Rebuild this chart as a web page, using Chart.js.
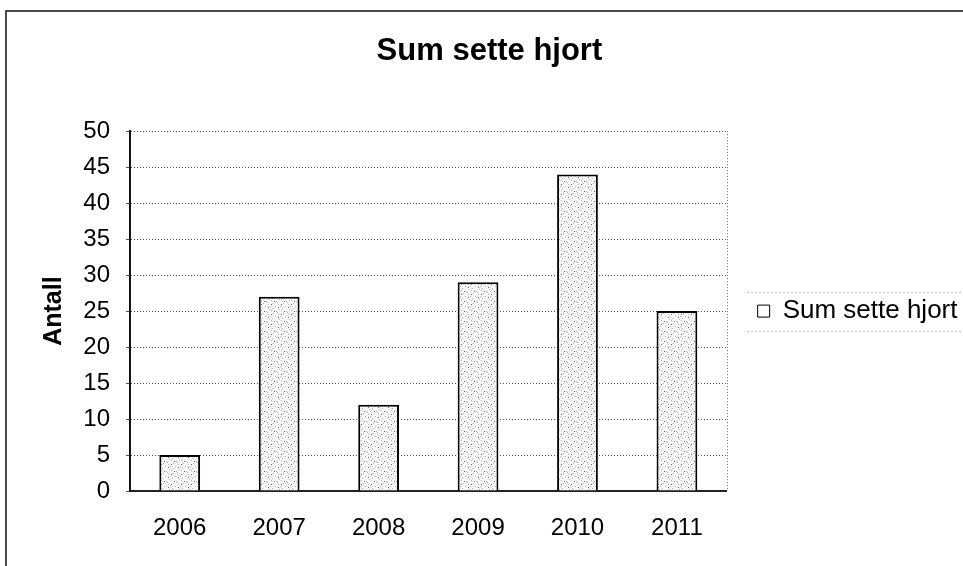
<!DOCTYPE html>
<html>
<head>
<meta charset="utf-8">
<script src="https://cdn.jsdelivr.net/npm/chart.js@4.4.1/dist/chart.umd.min.js"></script>
<style>
  html, body { margin: 0; padding: 0; background: #ffffff; }
  canvas { display: block; }
</style>
</head>
<body>
<canvas id="c" width="963" height="566"></canvas>
<script>
// ---- data ----
const categories = ['2006', '2007', '2008', '2009', '2010', '2011'];
const seriesName = 'Sum sette hjort';
const seriesValues = [5, 27, 12, 29, 44, 25];
const chartTitle = 'Sum sette hjort';
const yAxisTitle = 'Antall';
const yMin = 0, yMax = 50, yStep = 5;

// ---- styling ----
const FONT = "'Liberation Sans', Arial, sans-serif";
const W = 963, H = 566;
const AREA = { left: 130, right: 726, top: 131, bottom: 491 };
const PAD_LEFT = 15;
const legendFontSize = 26;
const legendPad = 31;

// stipple pattern for bars
function makePattern() {
  const p = document.createElement('canvas');
  p.width = 10; p.height = 10;
  const g = p.getContext('2d');
  g.fillStyle = '#f7f7f7';
  g.fillRect(0, 0, 10, 10);
  const light = [[1,0],[6,1],[3,3],[8,4],[0,6],[5,6],[2,8],[9,9],[7,2]];
  const dark = [[4,1],[8,7],[1,4]];
  g.fillStyle = '#b4b4b4';
  light.forEach(([x, y]) => g.fillRect(x, y, 1, 1));
  g.fillStyle = '#666';
  dark.forEach(([x, y]) => g.fillRect(x, y, 1, 1));
  return g.createPattern(p, 'repeat');
}

// measure legend text to place legend precisely
const mctx = document.createElement('canvas').getContext('2d');
mctx.font = legendFontSize + 'px ' + FONT;
const legendTextW = mctx.measureText(seriesName).width;
const legendBoxW = 12;
const legendWidth = legendPad + legendBoxW + legendFontSize / 2 + legendTextW + 10;
const padRight = W - AREA.right - legendWidth + 3;

const framePlugin = {
  id: 'frame',
  beforeDraw(chart) {
    const ctx = chart.ctx;
    ctx.save();
    ctx.fillStyle = '#fff';
    ctx.fillRect(0, 0, W, H);
    ctx.strokeStyle = '#111';
    ctx.lineWidth = 1.5;
    ctx.beginPath();
    ctx.moveTo(963, 11);
    ctx.lineTo(6, 11);
    ctx.lineTo(6, 566);
    ctx.stroke();
    ctx.restore();
  },
  afterDraw(chart) {
    const ctx = chart.ctx;
    const a = chart.chartArea;
    ctx.save();
    // right edge of plot area, dotted
    ctx.strokeStyle = '#666';
    ctx.lineWidth = 1;
    ctx.setLineDash([1, 2]);
    ctx.beginPath();
    ctx.moveTo(Math.round(a.right) + 0.5, a.top);
    ctx.lineTo(Math.round(a.right) + 0.5, a.bottom);
    ctx.stroke();
    // dotted lines around legend
    const hb = chart.legend && chart.legend.legendHitBoxes && chart.legend.legendHitBoxes[0];
    if (hb) {
      const cy = hb.top + hb.height / 2;
      ctx.strokeStyle = '#888';
      ctx.setLineDash([1, 3]);
      [cy - 19, cy + 20].forEach(y => {
        ctx.beginPath();
        ctx.moveTo(hb.left - 10, Math.round(y) + 0.5);
        ctx.lineTo(W, Math.round(y) + 0.5);
        ctx.stroke();
      });
    }
    ctx.restore();
  }
};

new Chart(document.getElementById('c'), {
  type: 'bar',
  data: {
    labels: categories,
    datasets: [{
      label: seriesName,
      data: seriesValues,
      backgroundColor: makePattern(),
      borderColor: '#000',
      borderWidth: 2,
      borderSkipped: 'bottom',
      barPercentage: 0.41,
      categoryPercentage: 1.0
    }]
  },
  options: {
    responsive: false,
    devicePixelRatio: 1,
    animation: false,
    layout: { padding: { left: PAD_LEFT, right: padRight, top: 0, bottom: 0 } },
    plugins: {
      title: {
        display: true,
        text: chartTitle,
        color: '#000',
        font: { family: FONT, size: 31, weight: 'bold' },
        padding: { top: 33, bottom: 61 }
      },
      legend: {
        display: true,
        position: 'right',
        align: 'center',
        fullSize: false,
        labels: {
          color: '#000',
          font: { family: FONT, size: legendFontSize },
          boxWidth: legendBoxW,
          boxHeight: 12,
          padding: legendPad,
          generateLabels(chart) {
            const items = Chart.defaults.plugins.legend.labels.generateLabels(chart);
            items.forEach(it => { it.fillStyle = '#fff'; it.strokeStyle = '#000'; it.lineWidth = 1; });
            return items;
          }
        }
      },
      tooltip: { enabled: false }
    },
    scales: {
      x: {
        grid: { display: false, drawTicks: false },
        border: { display: true, color: '#222', width: 2 },
        ticks: { color: '#000', font: { family: FONT, size: 24 }, padding: 23, maxRotation: 0 },
        afterFit(s) { s.height = H - AREA.bottom; }
      },
      y: {
        min: yMin, max: yMax,
        ticks: { stepSize: yStep, color: '#000', font: { family: FONT, size: 24 }, padding: 16 },
        grid: { color: '#555', lineWidth: 1, tickLength: 4, drawTicks: true },
        border: { display: true, color: '#111', width: 2, dash: [1, 2] },
        title: {
          display: true,
          text: yAxisTitle,
          color: '#000',
          font: { family: FONT, size: 25, weight: 'bold' },
          padding: { top: 39 - PAD_LEFT, bottom: 0 }
        },
        afterFit(s) { s.width = AREA.left - PAD_LEFT; }
      }
    }
  },
  plugins: [framePlugin]
});
</script>
</body>
</html>
